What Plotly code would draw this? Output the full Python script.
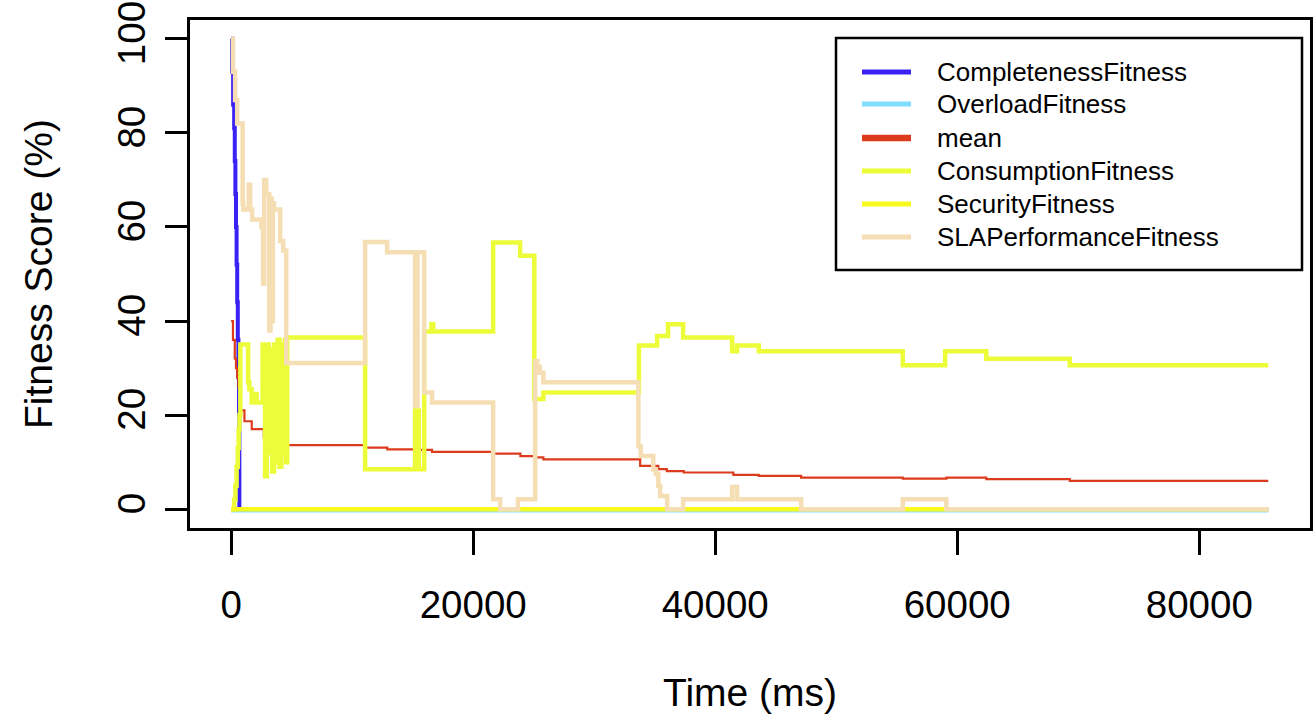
import plotly.graph_objects as go

# ---------------- data ----------------
END_T = 85700

completeness_t = [0, 80, 165, 250, 300, 350, 400, 450, 500, 550, 600, 650, 680, END_T]
completeness_v = [100, 93, 86, 81, 74, 67, 60, 52, 44, 36, 28, 20, 0, 0]

overload_t = [0, END_T]
overload_v = [-0.3, -0.3]

mean_t = [0, 150, 300, 400, 500, 600, 700, 800, 1100, 1700, 2700, 3300, 4000, 4600,
          11100, 12900, 15200, 16600, 21700, 23900, 25100, 25800, 33800, 35300, 36000,
          37400, 41500, 43600, 47100, 55500, 59100, 62400, 69300, END_T]
mean_v = [40, 36, 32, 30, 28, 26, 24, 21, 18.7, 17, 15.3, 14.8, 14.2, 13.6,
          13.1, 12.7, 12.6, 12.2, 11.8, 11.3, 11.0, 10.6, 9.2, 8.5, 8.1,
          7.8, 7.3, 7.1, 6.7, 6.5, 6.7, 6.4, 6.0, 6.0]

consumption_t = [0, 250, 350, 450, 550, 620, 690, 760, 1400, 1500, 1700, 1900, 2100,
                 2600, 2800, 2950, 3100, 3250, 3400, 3550, 3700, 3850, 4000, 4150,
                 4300, 4450, 4550, 4630, 11070, 15200, 15300, 15400, 15500, 15950,
                 16550, 16700, 21650, 23880, 25050, 25800, 33700, 35200, 36100,
                 37350, 41400, 41800, 43600, 55500, 59000, 62400, 69300, END_T]
consumption_v = [0, 2, 5, 9, 13, 17, 20, 35, 27, 25.5, 22.7, 24.5, 22.7,
                 35, 7, 35, 12, 34, 8, 35, 10, 36, 9, 35,
                 12, 36, 10, 36.5, 8.5, 21, 8.5, 21, 8.5, 37.8,
                 39.3, 37.8, 56.7, 53.9, 23.4, 24.8, 34.8, 36.8, 39.3,
                 36.5, 33.6, 34.8, 33.6, 30.6, 33.6, 32.0, 30.6, 30.6]

security_t = [0, END_T]
security_v = [0, 0]

sla_t = [0, 150, 330, 500, 900, 950, 1000, 1450, 1570, 1740, 2500, 2640, 2730, 2900,
         3150, 3250, 3350, 3450, 3550, 4050, 4300, 4550, 11070, 12890, 15200, 15400,
         15950, 16600, 21650, 22230, 23700, 25120, 25300, 25500, 25800, 33650, 33850,
         34880, 35100, 35300, 35450, 36030, 37350, 41400, 41800, 47100, 55500, 59100,
         END_T]
sla_v = [100, 93, 87, 82, 82, 65, 63.7, 69, 63.7, 61.6, 60, 48, 70, 67,
         38, 66, 40, 65, 63.7, 57, 55, 31.1, 56.8, 54.6, 22, 54.6,
         24.8, 22.7, 2.1, 0, 2.1, 31.5, 30.3, 29, 27, 13.4, 11.3,
         8.5, 7.5, 5, 2.8, 0, 2.1, 4.7, 2.1, 0, 2.1, 0,
         0]

x_ticks = [0, 20000, 40000, 60000, 80000]
x_tick_labels = ["0", "20000", "40000", "60000", "80000"]
y_ticks = [0, 20, 40, 60, 80, 100]
y_tick_labels = ["0", "20", "40", "60", "80", "100"]

series = [
    ("CompletenessFitness", completeness_t, completeness_v, "#3A22F5", 4),
    ("OverloadFitness", overload_t, overload_v, "#80DDFF", 4),
    ("mean", mean_t, mean_v, "#DC3B1C", 2.2),
    ("ConsumptionFitness", consumption_t, consumption_v, "#ECFC38", 4.5),
    ("SecurityFitness", security_t, security_v, "#F8FA1E", 4.5),
    ("SLAPerformanceFitness", sla_t, sla_v, "#F5DEB3", 4.5),
]
legend_widths = [5, 5, 6.5, 5, 5, 5]

# ---------------- geometry (page pixels of the reference) ----------------
FIG_W, FIG_H = 1315, 717
PL, PR, PT, PB = 190, 1310, 20, 528  # plot area on the page
PW, PH = PR - PL, PB - PT


def px(xp):
    return (xp - PL) / PW


def py(yp):
    return (PB - yp) / PH


FONT = "Liberation Sans, Arial, Helvetica, sans-serif"
fig = go.Figure()

for name, t, v, color, w in series:
    fig.add_trace(go.Scatter(
        x=t, y=v, mode="lines", name=name, showlegend=False,
        line=dict(color=color, width=w, shape="hv"), hoverinfo="skip"))

# manual legend (box, sample lines, labels)
legend_rows = [72, 104, 138, 171, 204, 237]
shapes = [dict(
    type="rect", xref="paper", yref="paper",
    x0=px(836), x1=px(1302), y0=py(270), y1=py(38),
    line=dict(color="black", width=2.5), fillcolor="white", layer="above",
)]
annotations = []
for (name, t, v, color, w), lw, row in zip(series, legend_widths, legend_rows):
    shapes.append(dict(type="line", xref="paper", yref="paper",
                       x0=px(862), x1=px(911), y0=py(row), y1=py(row),
                       line=dict(color=color, width=lw), layer="above"))
    annotations.append(dict(text=name, xref="paper", yref="paper",
                            x=px(935), y=py(row), xanchor="left", yanchor="middle",
                            showarrow=False,
                            font=dict(family=FONT, size=26, color="black")))

annotations += [
    dict(text="Time (ms)", xref="paper", yref="paper", x=0.5, y=py(693),
         xanchor="center", yanchor="middle", showarrow=False,
         font=dict(family=FONT, size=39, color="black")),
    dict(text="Fitness Score (%)", xref="paper", yref="paper",
         x=px(38), y=0.5, xanchor="center", yanchor="middle",
         textangle=-90, showarrow=False,
         font=dict(family=FONT, size=39, color="black")),
]

fig.update_layout(
    width=FIG_W, height=FIG_H,
    margin=dict(l=PL, r=FIG_W - PR, t=PT, b=FIG_H - PB, autoexpand=False),
    paper_bgcolor="white", plot_bgcolor="white",
    font=dict(family=FONT, color="black"),
    showlegend=False,
    xaxis=dict(
        range=[-3400, 89150], showgrid=False, zeroline=False,
        showline=True, linecolor="black", linewidth=2.5, mirror=True,
        ticks="outside", ticklen=24, tickwidth=2.5, tickcolor="black",
        tickvals=x_ticks, ticktext=x_tick_labels,
        tickfont=dict(family=FONT, size=38.5, color="black"),
        ticklabelstandoff=17, ticklabeloverflow="allow",
    ),
    yaxis=dict(
        range=[-4, 104], showgrid=False, zeroline=False,
        showline=True, linecolor="black", linewidth=2.5, mirror=True,
        ticks="outside", ticklen=22, tickwidth=2.5, tickcolor="black",
        tickvals=y_ticks, ticktext=y_tick_labels, tickangle=-90,
        tickfont=dict(family=FONT, size=38.5, color="black"),
        ticklabelstandoff=5, ticklabeloverflow="allow",
    ),
    shapes=shapes,
    annotations=annotations,
)

fig.write_html(
    "out.html",
    config={"displayModeBar": False},
    post_script="document.body.style.margin='0';document.body.style.overflow='hidden';",
)
